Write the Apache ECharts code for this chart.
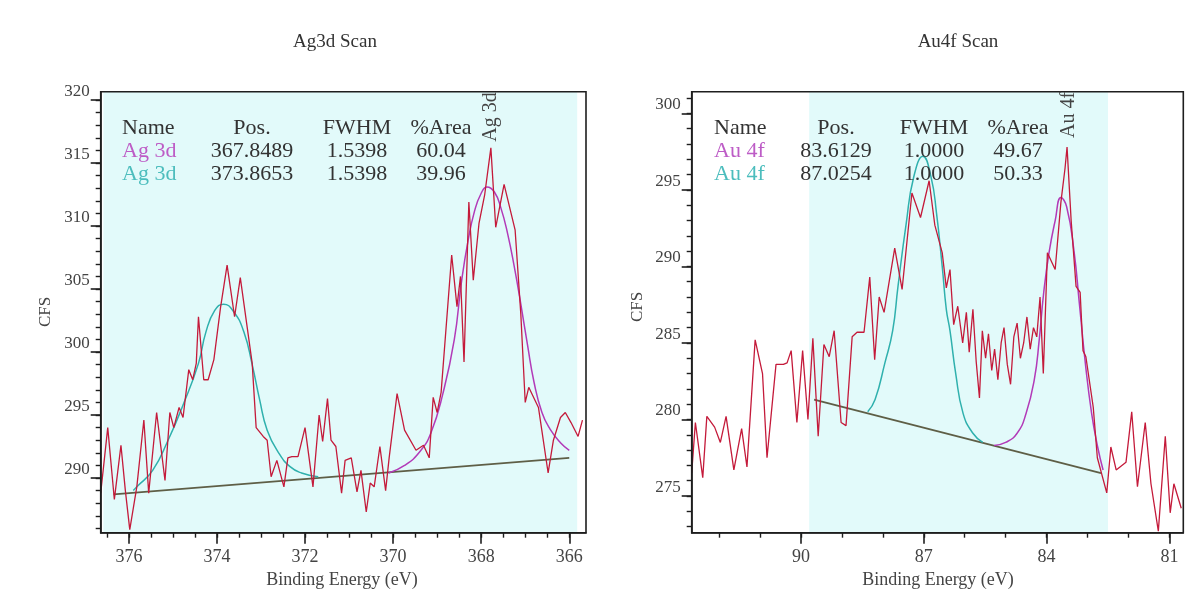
<!DOCTYPE html>
<html>
<head>
<meta charset="utf-8">
<script src="https://cdn.jsdelivr.net/npm/echarts@6/dist/echarts.min.js"></script>
<style>
html,body{margin:0;padding:0;background:#fff;}
#c{width:1201px;height:599px;}
</style>
</head>
<body>
<div id="c"></div>
<script>
// ---------------- Ag3d scan data ----------------
const agEnergy = [376.64,376.48,376.33,376.18,376.08,375.98,375.82,375.66,375.55,375.37,375.18,375.07,374.98,374.86,374.77,374.64,374.55,374.47,374.42,374.30,374.20,374.07,373.92,373.77,373.60,373.47,373.20,373.11,372.95,372.86,372.77,372.64,372.48,372.39,372.30,372.16,372.00,371.82,371.68,371.60,371.49,371.41,371.30,371.17,371.09,370.95,370.82,370.73,370.61,370.52,370.43,370.30,370.17,370.09,369.91,369.74,369.48,369.31,369.18,369.09,369.00,368.91,368.67,368.55,368.47,368.39,368.28,368.18,368.05,367.92,367.78,367.67,367.48,367.23,367.10,367.00,366.92,366.70,366.48,366.36,366.20,366.09,365.96,365.80,365.70];
const agCounts = [288.8,294.0,288.3,292.6,289.0,285.9,289.3,294.6,288.8,295.2,289.8,295.2,294.0,295.6,294.8,298.6,297.8,299.1,302.8,297.8,297.8,299.4,303.5,306.9,302.8,305.9,299.1,294.0,293.3,293.0,290.1,291.4,289.3,291.6,291.7,291.7,294.0,289.3,295.0,292.9,296.3,293.0,292.5,288.8,291.4,291.6,288.9,290.6,287.3,289.6,289.3,292.5,289.0,291.6,296.7,293.8,292.2,292.6,291.6,296.4,295.2,296.8,307.7,303.6,306.0,299.2,311.9,305.7,310.2,312.5,316.2,309.9,313.3,309.7,303.0,296.0,297.2,295.6,290.4,293.0,294.8,295.2,294.4,293.3,294.6];
// component at 367.85 eV (magenta)
const agPeakAEnergy = [370.10,369.74,369.39,369.14,368.87,368.61,368.45,368.30,368.15,368.00,367.87,367.70,367.55,367.40,367.25,367.10,366.95,366.80,366.62,366.44,366.20,366.00];
const agPeakACounts = [290.4,291.0,292.1,293.6,296.7,301.0,305.5,308.8,311.2,312.6,313.1,312.7,311.4,309.4,306.8,303.8,300.6,297.6,295.2,293.9,292.8,292.2];
// component at 373.87 eV (cyan)
const agPeakBEnergy = [375.90,375.82,375.46,375.11,374.77,374.42,374.25,374.05,373.85,373.62,373.39,373.20,373.03,372.86,372.60,372.34,372.08,371.70];
const agPeakBCounts = [289.0,289.3,290.6,293.0,295.8,299.1,301.6,303.3,303.8,303.2,301.6,299.0,296.2,293.8,292.0,290.9,290.4,290.1];
// background
const agBgEnergy = [376.35, 366.00];
const agBgCounts = [288.7, 291.6];
const agRegion = [376.58, 365.82];
const agXTicks = [376, 374, 372, 370, 368, 366];
const agYTicks = [290, 295, 300, 305, 310, 315, 320];
const agXRange = [365.62, 376.64];
const agYRange = [285.66, 320.66];

// ---------------- Au4f scan data ----------------
const auEnergy = [92.67,92.58,92.40,92.30,92.11,91.97,91.83,91.64,91.45,91.32,91.12,90.94,90.83,90.61,90.43,90.34,90.24,90.10,89.96,89.83,89.71,89.58,89.44,89.31,89.19,89.02,88.90,88.75,88.63,88.46,88.32,88.20,88.09,87.97,87.71,87.53,87.29,87.08,86.87,86.73,86.55,86.45,86.36,86.27,86.17,86.05,85.96,85.89,85.80,85.72,85.64,85.57,85.49,85.42,85.34,85.27,85.19,85.11,85.04,84.96,84.88,84.80,84.72,84.64,84.56,84.48,84.40,84.32,84.24,84.16,84.08,83.98,83.79,83.65,83.55,83.50,83.40,83.28,83.18,83.11,83.04,82.86,82.76,82.53,82.43,82.30,82.06,81.92,81.78,81.59,81.45,81.27,81.10,80.98,80.89,80.71];
const auCounts = [276.5,279.8,276.2,280.2,279.5,278.5,280.2,276.7,279.4,276.9,285.2,283.0,277.5,283.6,283.6,283.7,284.5,279.8,284.5,280.0,285.3,278.9,284.9,284.1,285.8,279.8,279.6,285.4,285.7,285.7,289.3,283.9,288.0,287.0,291.2,288.5,294.8,293.2,295.6,292.7,290.9,288.6,289.8,286.2,287.4,285.0,287.0,284.4,287.2,283.8,281.4,285.8,284.0,285.6,283.2,284.6,282.6,285.0,286.0,283.6,282.3,285.4,286.3,284.0,285.0,286.7,284.6,286.0,285.4,288.0,283.0,290.9,289.8,294.2,296.4,297.8,293.0,288.7,288.3,284.5,284.1,280.8,277.5,275.2,278.2,276.7,277.2,280.5,275.6,279.8,275.8,272.7,278.9,273.9,275.8,274.2];
// component at 83.61 eV (magenta)
const auPeakAEnergy = [85.28,85.00,84.72,84.50,84.30,84.18,84.07,83.94,83.79,83.65,83.51,83.33,83.20,83.05,82.90,82.76,82.62];
const auPeakACounts = [278.3,278.5,279.1,280.4,282.6,285.2,288.3,290.9,293.0,294.5,293.9,291.0,287.6,283.6,280.4,278.3,276.7];
// component at 87.03 eV (cyan)
const auPeakBEnergy = [88.37,88.19,87.95,87.76,87.63,87.43,87.25,87.02,86.82,86.69,86.55,86.45,86.36,86.22,86.04,85.80,85.56];
const auPeakBCounts = [280.5,281.3,283.7,285.8,288.7,292.8,295.8,297.2,295.8,293.5,290.0,287.2,285.8,283.0,280.4,279.1,278.5];
const auBgEnergy = [89.68, 82.67];
const auBgCounts = [281.3, 276.5];
const auRegion = [89.80, 82.50];
const auXTicks = [90, 87, 84, 81];
const auYTicks = [275, 280, 285, 290, 295, 300];
const auXRange = [80.66, 92.67];
const auYRange = [272.6, 301.42];

// ---------------- texts ----------------
const titles = ['Ag3d Scan', 'Au4f Scan'];
const xName = 'Binding Energy (eV)';
const yName = 'CFS';
const tableHead = ['Name', 'Pos.', 'FWHM', '%Area'];
const agRows = [['Ag 3d', '367.8489', '1.5398', '60.04'], ['Ag 3d', '373.8653', '1.5398', '39.96']];
const auRows = [['Au 4f', '83.6129', '1.0000', '49.67'], ['Au 4f', '87.0254', '1.0000', '50.33']];
const peakLabels = ['Ag 3d', 'Au 4f'];

// ---------------- helpers ----------------
const pairs = (e, c) => e.map((v, i) => [v, c[i]]);
function steps(from, to, step) { const r = []; for (let v = from; v <= to + 1e-9; v += step) r.push(Math.round(v * 100) / 100); return r; }
const agXMinor = steps(366, 376.5, 0.5);
const agYMinor = steps(286, 320, 1);
const auXMinor = steps(81, 92, 1);
const auYMinor = steps(273, 301, 1);

const FONT = '"Liberation Serif", "Times New Roman", serif';
const RED = '#c41a3a', MAG = '#b23ab8', CYN = '#2fb0ad', BG = '#5e5e46', AREA = '#e2fafa';
const AX = '#1e1e1e';

function xAxes(grid, range, major, minor) {
  return [
    { gridIndex: grid, type: 'value', position: 'bottom', min: range[0], max: range[1], inverse: true,
      axisLine: { show: true, lineStyle: { color: AX, width: 1.6 } },
      axisTick: { show: true, customValues: major, length: 11, lineStyle: { color: AX, width: 1.6 } },
      axisLabel: { customValues: major, margin: 16, fontFamily: FONT, fontSize: 18, color: '#444' },
      splitLine: { show: false }, z: 10 },
    { gridIndex: grid, type: 'value', position: 'bottom', min: range[0], max: range[1], inverse: true,
      axisLine: { show: false },
      axisTick: { show: true, customValues: minor, length: 5, lineStyle: { color: AX, width: 1.4 } },
      axisLabel: { show: false }, splitLine: { show: false }, z: 10 }
  ];
}
function yAxes(grid, range, major, minor) {
  return [
    { gridIndex: grid, type: 'value', position: 'left', min: range[0], max: range[1],
      axisLine: { show: true, lineStyle: { color: AX, width: 1.6 } },
      axisTick: { show: true, customValues: major, length: 10, lineStyle: { color: AX, width: 1.6 } },
      axisLabel: { customValues: major, margin: 11, verticalAlign: 'bottom', fontFamily: FONT, fontSize: 17, color: '#444' },
      splitLine: { show: false }, z: 10 },
    { gridIndex: grid, type: 'value', position: 'left', min: range[0], max: range[1],
      axisLine: { show: false },
      axisTick: { show: true, customValues: minor, length: 5, lineStyle: { color: AX, width: 1.4 } },
      axisLabel: { show: false }, splitLine: { show: false }, z: 10 }
  ];
}
function lineSeries(xi, yi, data, color, width, smooth, z) {
  return { type: 'line', xAxisIndex: xi, yAxisIndex: yi, data: data, showSymbol: false, symbol: 'none',
    smooth: smooth, lineStyle: { color: color, width: width }, z: z, silent: true, animation: false };
}
function regionSeries(xi, yi, region) {
  return { type: 'line', xAxisIndex: xi, yAxisIndex: yi, data: [], z: 1, silent: true,
    markArea: { silent: true, itemStyle: { color: AREA }, data: [[{ xAxis: region[0] }, { xAxis: region[1] }]] } };
}

function txt(x, y, s, opt) {
  return Object.assign({ type: 'text', x: x, y: y, silent: true, z: 20,
    style: Object.assign({ text: s, font: '22px ' + FONT, fill: '#333', textAlign: 'left', textVerticalAlign: 'middle' }, opt || {}) });
}
function table(cols, rows, rowY) {
  const g = [];
  g.push(txt(cols[0], rowY[0], tableHead[0]));
  for (let k = 1; k < 4; k++) g.push(txt(cols[k], rowY[0], tableHead[k], { textAlign: 'center' }));
  rows.forEach((r, i) => {
    g.push(txt(cols[0], rowY[i + 1], r[0], { fill: i === 0 ? '#bd5cc6' : '#4cbdbd' }));
    for (let k = 1; k < 4; k++) g.push(txt(cols[k], rowY[i + 1], r[k], { textAlign: 'center' }));
  });
  return g;
}

const graphics = [
  txt(335, 42, titles[0], { font: '19px ' + FONT, textAlign: 'center' }),
  txt(958, 42, titles[1], { font: '19px ' + FONT, textAlign: 'center' }),
  txt(342, 580, xName, { font: '18px ' + FONT, textAlign: 'center', fill: '#444' }),
  txt(938, 580, xName, { font: '18px ' + FONT, textAlign: 'center', fill: '#444' }),
  Object.assign(txt(46, 312, yName, { font: '17px ' + FONT, textAlign: 'center', fill: '#444' }), { rotation: Math.PI / 2 }),
  Object.assign(txt(638, 307, yName, { font: '17px ' + FONT, textAlign: 'center', fill: '#444' }), { rotation: Math.PI / 2 }),
  Object.assign(txt(491, 117, peakLabels[0], { font: '20px ' + FONT, textAlign: 'center', fill: '#444' }), { rotation: Math.PI / 2 }),
  Object.assign(txt(1069, 115, peakLabels[1], { font: '20px ' + FONT, textAlign: 'center', fill: '#444' }), { rotation: Math.PI / 2 })
].concat(table([122, 252, 357, 441], agRows, [128, 151, 174]))
 .concat(table([714, 836, 934, 1018], auRows, [128, 151, 174]));

const option = {
  animation: false,
  backgroundColor: '#fff',
  grid: [
    { left: 100.7, top: 91.7, width: 485.3, height: 441, show: true, backgroundColor: 'transparent', borderColor: AX, borderWidth: 1.6, z: 10 },
    { left: 691.7, top: 91.7, width: 491.6, height: 441, show: true, backgroundColor: 'transparent', borderColor: AX, borderWidth: 1.6, z: 10 }
  ],
  xAxis: xAxes(0, agXRange, agXTicks, agXMinor).concat(xAxes(1, auXRange, auXTicks, auXMinor)),
  yAxis: yAxes(0, agYRange, agYTicks, agYMinor).concat(yAxes(1, auYRange, auYTicks, auYMinor)),
  series: [
    regionSeries(0, 0, agRegion),
    lineSeries(0, 0, pairs(agBgEnergy, agBgCounts), BG, 1.8, false, 3),
    lineSeries(0, 0, pairs(agPeakBEnergy, agPeakBCounts), CYN, 1.5, 0.5, 4),
    lineSeries(0, 0, pairs(agPeakAEnergy, agPeakACounts), MAG, 1.5, 0.5, 4),
    lineSeries(0, 0, pairs(agEnergy, agCounts), RED, 1.3, false, 5),
    regionSeries(2, 2, auRegion),
    lineSeries(2, 2, pairs(auBgEnergy, auBgCounts), BG, 1.8, false, 3),
    lineSeries(2, 2, pairs(auPeakBEnergy, auPeakBCounts), CYN, 1.5, 0.5, 4),
    lineSeries(2, 2, pairs(auPeakAEnergy, auPeakACounts), MAG, 1.5, 0.5, 4),
    lineSeries(2, 2, pairs(auEnergy, auCounts), RED, 1.3, false, 5)
  ],
  graphic: graphics
};
const chart = echarts.init(document.getElementById('c'), null, { renderer: 'canvas' });
chart.setOption(option);
</script>
</body>
</html>
